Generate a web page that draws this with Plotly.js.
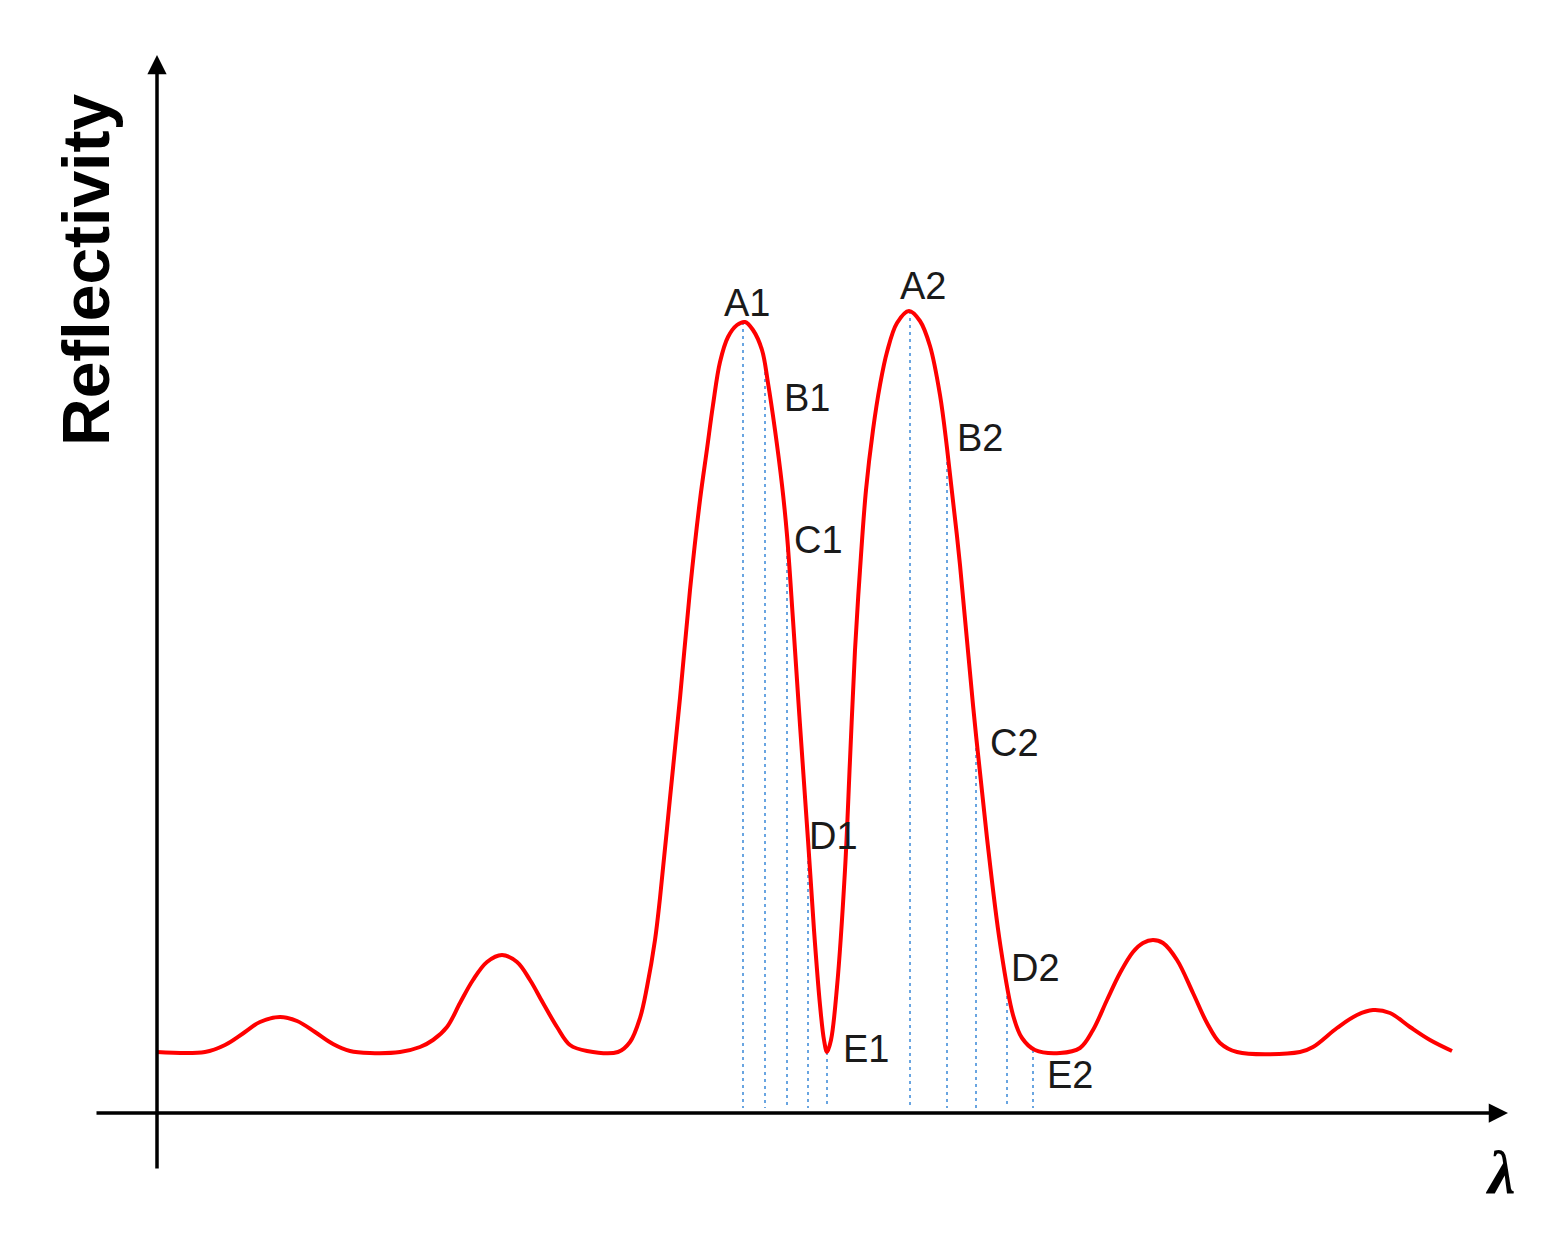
<!DOCTYPE html>
<html>
<head>
<meta charset="utf-8">
<script src="https://cdn.plot.ly/plotly-3.0.1.min.js"></script>
<style>
  html, body { margin: 0; padding: 0; background: #fff; }
  #chart { width: 1546px; height: 1236px; }
</style>
</head>
<body>
<div id="chart"></div>
<script>
// reflectivity spectrum, arbitrary units
var wavelength = [0, 4.8, 6.8, 8.8, 10.3, 12.3, 14, 15.8, 17.6, 19.3, 21.3, 24.3,
  26.3, 27.6, 29, 30.3, 31.6, 33, 34.5, 36, 37.3, 38.6, 40, 41.3, 43, 46.1,
  47.3, 48.3, 49, 49.8, 50.3, 51.3, 52.3, 53.3, 54.3, 55, 55.6, 56.3, 57.1, 58, 58.8,
  59.6, 60.5, 61.1, 61.8, 62.5, 63, 63.6, 64.3, 65.1, 65.7, 66.3, 66.7, 67,
  67.4, 68, 68.8, 69.3, 69.8, 70.3, 70.9, 71.6, 72.3, 73, 74, 75.2,
  76.3, 77.3, 78.3, 79, 80.3, 81.6, 83, 84.3, 85.6, 86.5, 87.8, 90.3,
  92.3, 93.6, 95, 96.3, 97.6, 98.6, 99.6, 100.6, 102, 103.6, 105, 106.3, 108,
  114.3, 115.6, 118, 120, 121.6, 123.3, 125.3, 127.3, 129.5];
var reflectivity = [6.1, 6.1, 6.8, 8.1, 9.1, 9.6, 9.2, 8.1, 6.9, 6.2, 6.0, 6.1,
  6.6, 7.3, 8.6, 11, 13.3, 15.1, 15.8, 15.1, 13.3, 11, 8.6, 6.8, 6.2, 6.1,
  7.1, 9.5, 12.6, 17.3, 21.5, 31.5, 41.5, 52.3, 61.3, 66.4, 70.8, 75.1, 77.6, 78.8, 79.1,
  78.3, 76.3, 73, 68.3, 62.8, 57.8, 49.3, 38.8, 27.3, 18.3, 10.8, 7.3, 6.1,
  7.3, 12.6, 24.3, 35.3, 46.3, 54.3, 62.3, 68.3, 72.8, 76.1, 79, 80.2,
  79.2, 76.7, 71.8, 66.5, 54.8, 40.8, 27.5, 17, 9.8, 7.5, 6.3, 6,
  6.5, 8.3, 11.3, 14, 16.1, 17, 17.3, 17, 15.3, 12, 9, 7, 6.1,
  6.1, 6.6, 8.5, 9.8, 10.3, 10, 8.6, 7.3, 6.2];

// marked points A1..E2
var pointLabels = ["A1", "B1", "C1", "D1", "E1", "A2", "B2", "C2", "D2", "E2"];
var pointLambda = [58.6, 60.8, 63, 65.1, 67, 75.3, 79, 81.9, 85, 87.6];
var pointR = [79.1, 74.8, 57.8, 27.3, 6.1, 80.2, 66.5, 37.9, 13.1, 6.3];

// label offsets in pixels (dx, dy)
var labelShift = [[4, 19], [42, -33], [31, -5], [25, 4], [39, 3],
  [13, 25], [33, 10], [38, -9], [28, 14], [37, -25]];

var dropX = [], dropY = [];
for (var i = 0; i < pointLambda.length; i++) {
  dropX.push(pointLambda[i], pointLambda[i], null);
  dropY.push(pointR[i], 0.5, null);
}

var guides = {
  x: dropX,
  y: dropY,
  mode: "lines",
  line: { color: "rgb(105,165,225)", width: 2, dash: "3px,4px" },
  hoverinfo: "skip",
  showlegend: false,
};

var curve = {
  x: wavelength,
  y: reflectivity,
  mode: "lines",
  line: { color: "#ff0000", width: 4, shape: "spline", smoothing: 1 },
  showlegend: false,
};

var annotations = pointLabels.map(function (t, i) {
  return {
    x: pointLambda[i],
    y: pointR[i],
    text: t,
    showarrow: false,
    xanchor: "center",
    yanchor: "middle",
    xshift: labelShift[i][0],
    yshift: labelShift[i][1],
    font: { family: "Liberation Sans, Arial, sans-serif", size: 38, color: "#1a1a1a" },
  };
});

// axes drawn as arrows
annotations.push({
  x: 135.1, y: 0, ax: -6.2, ay: 0, axref: "x", ayref: "y", xref: "x", yref: "y",
  showarrow: true, arrowhead: 2, arrowsize: 1.1, arrowwidth: 3.5, arrowcolor: "#000", text: "",
});
annotations.push({
  x: 0, y: 105.8, ax: 0, ay: -5.7, axref: "x", ayref: "y", xref: "x", yref: "y",
  showarrow: true, arrowhead: 2, arrowsize: 1.1, arrowwidth: 3.5, arrowcolor: "#000", text: "",
});

annotations.push({
  xref: "paper", yref: "paper", x: 86 / 1546, y: 1 - 270 / 1236,
  text: "<b>Reflectivity</b>", textangle: -90, showarrow: false,
  xanchor: "center", yanchor: "middle",
  font: { family: "Liberation Sans, Arial, sans-serif", size: 66, color: "#000" },
});
annotations.push({
  xref: "paper", yref: "paper", x: 1500 / 1546, y: 1 - 1172 / 1236,
  text: "<b><i>λ</i></b>", showarrow: false,
  xanchor: "center", yanchor: "middle",
  font: { family: "Liberation Serif, Times New Roman, serif", size: 62, color: "#000" },
});

var layout = {
  width: 1546,
  height: 1236,
  margin: { l: 0, r: 0, t: 0, b: 0 },
  paper_bgcolor: "#fff",
  plot_bgcolor: "#fff",
  xaxis: { range: [-15.7, 138.9], visible: false, fixedrange: true },
  yaxis: { range: [-12.3, 111.3], visible: false, fixedrange: true },
  annotations: annotations,
  showlegend: false,
};

Plotly.newPlot("chart", [guides, curve], layout, { displayModeBar: false, staticPlot: true });
</script>
</body>
</html>
